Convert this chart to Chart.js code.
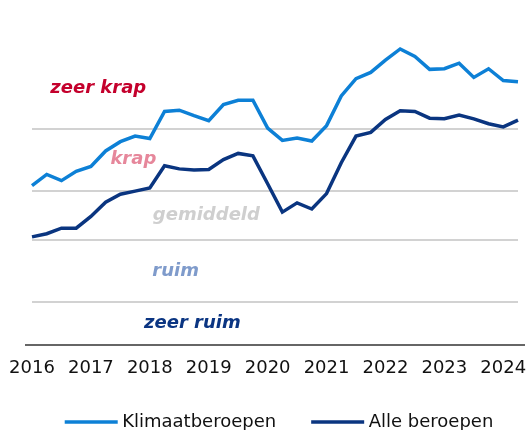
<!DOCTYPE html>
<html>
<head>
<meta charset="utf-8">
<script src="https://cdn.jsdelivr.net/npm/chart.js@4/dist/chart.umd.min.js"></script>
<style>
  html, body { margin: 0; padding: 0; background: #ffffff; }
  #wrap { width: 526px; height: 430px; position: relative; }
</style>
</head>
<body>
<div id="wrap"><canvas id="c" width="526" height="430"></canvas></div>
<script>
// Quarterly categories 2016 Q1 .. 2024 Q2
const years = [2016, 2017, 2018, 2019, 2020, 2021, 2022, 2023, 2024];
const quarters = [];
years.forEach(y => { for (let q = 1; q <= 4; q++) { if (y === 2024 && q > 2) break; quarters.push(y + '-K' + q); } });

// Series values (tension indicator)
const klimaatberoepen = [
  2.58, 2.76, 2.66, 2.81, 2.89, 3.14, 3.29, 3.38,
  3.34, 3.78, 3.80, 3.71, 3.63, 3.89, 3.96, 3.96,
  3.51, 3.31, 3.35, 3.30, 3.55, 4.03, 4.31, 4.41,
  4.61, 4.79, 4.67, 4.46, 4.47, 4.56, 4.33, 4.47,
  4.28, 4.26
];
const alleBeroepen = [
  1.75, 1.80, 1.89, 1.89, 2.08, 2.31, 2.44, 2.49,
  2.54, 2.90, 2.85, 2.83, 2.84, 3.00, 3.10, 3.06,
  2.61, 2.15, 2.30, 2.20, 2.45, 2.95, 3.38, 3.44,
  3.65, 3.79, 3.78, 3.67, 3.66, 3.72, 3.66, 3.58,
  3.53, 3.64
];

// Band boundaries (gridlines) and band labels
const bandLimits = [0.7, 1.7, 2.5, 3.5];
const bandLabels = ['zeer ruim', 'ruim', 'gemiddeld', 'krap', 'zeer krap'];
const bandLabelY = [0.35, 1.2, 2.1, 3.0, 4.16];
const bandLabelX = [10.89, 9.75, 11.84, 6.88, 4.5];
const bandColors = ['#0b3582', '#7f9bcb', '#cfcfcf', '#e6879b', '#c4002c'];

const seriesNames = ['Klimaatberoepen', 'Alle beroepen'];
const seriesColors = ['#0d80d6', '#0a3580'];

const FONT = '"DejaVu Sans", Verdana, sans-serif';

const bandLabelPlugin = {
  id: 'bandLabels',
  beforeDatasetsDraw(chart) {
    const {ctx, scales: {x, y}} = chart;
    ctx.save();
    ctx.font = 'italic bold 18px ' + FONT;
    ctx.textAlign = 'center';
    ctx.textBaseline = 'middle';
    bandLabels.forEach((t, i) => {
      ctx.fillStyle = bandColors[i];
      ctx.fillText(t, x.getPixelForValue(bandLabelX[i]), y.getPixelForValue(bandLabelY[i]));
    });
    // baseline axis
    const yb = y.getPixelForValue(0);
    ctx.strokeStyle = '#333333';
    ctx.lineWidth = 1.5;
    ctx.beginPath();
    ctx.moveTo(chart.chartArea.left - 7, yb);
    ctx.lineTo(chart.chartArea.right + 7, yb);
    ctx.stroke();
    ctx.restore();
  }
};

const legendPlugin = {
  id: 'customLegend',
  afterDraw(chart) {
    const ctx = chart.ctx;
    ctx.save();
    ctx.font = '18px ' + FONT;
    const lineW = 53, gapText = 4.5, gapItems = 35;
    const items = chart.data.datasets.map(ds => ({
      label: ds.label, color: ds.borderColor, w: ctx.measureText(ds.label).width
    }));
    const total = items.reduce((s, it) => s + lineW + gapText + it.w, 0) + gapItems * (items.length - 1);
    let x = (chart.chartArea.left + chart.width) / 2 - total / 2;
    const y = chart.height - 8;
    ctx.textBaseline = 'middle';
    ctx.textAlign = 'left';
    items.forEach(it => {
      ctx.strokeStyle = it.color;
      ctx.lineWidth = 3.5;
      ctx.beginPath();
      ctx.moveTo(x, y);
      ctx.lineTo(x + lineW, y);
      ctx.stroke();
      ctx.fillStyle = '#111111';
      ctx.fillText(it.label, x + lineW + gapText, y);
      x += lineW + gapText + it.w + gapItems;
    });
    ctx.restore();
  }
};

new Chart(document.getElementById('c'), {
  type: 'line',
  data: {
    labels: quarters,
    datasets: [
      { label: seriesNames[0], data: klimaatberoepen, borderColor: seriesColors[0], backgroundColor: seriesColors[0],
        borderWidth: 3.5, pointRadius: 0, tension: 0, fill: false },
      { label: seriesNames[1], data: alleBeroepen, borderColor: seriesColors[1], backgroundColor: seriesColors[1],
        borderWidth: 3.5, pointRadius: 0, tension: 0, fill: false }
    ]
  },
  options: {
    responsive: false,
    animation: false,
    layout: { padding: { left: 32, right: 8, top: 36, bottom: 50 } },
    plugins: { legend: { display: false }, tooltip: { enabled: false } },
    scales: {
      x: {
        type: 'category',
        offset: false,
        grid: { display: false, drawTicks: false },
        border: { display: false },
        afterFit: (s) => { s.height = 35; s.paddingLeft = 0; s.paddingRight = 0; },
        ticks: {
          autoSkip: false, maxRotation: 0, minRotation: 0, padding: 13,
          color: '#111111', font: { family: FONT, size: 18 },
          callback: function (v, i) {
            const lab = quarters[i];
            return lab.endsWith('-K1') ? lab.slice(0, 4) : '';
          }
        }
      },
      y: {
        min: 0, max: 5,
        afterBuildTicks: (scale) => { scale.ticks = bandLimits.map(v => ({ value: v })); },
        afterFit: (s) => { s.width = 0; s.paddingTop = 0; s.paddingBottom = 0; },
        grid: { color: '#d2d2d2', lineWidth: 2, drawTicks: false },
        border: { display: false },
        ticks: { display: false }
      }
    }
  },
  plugins: [bandLabelPlugin, legendPlugin]
});
</script>
</body>
</html>
